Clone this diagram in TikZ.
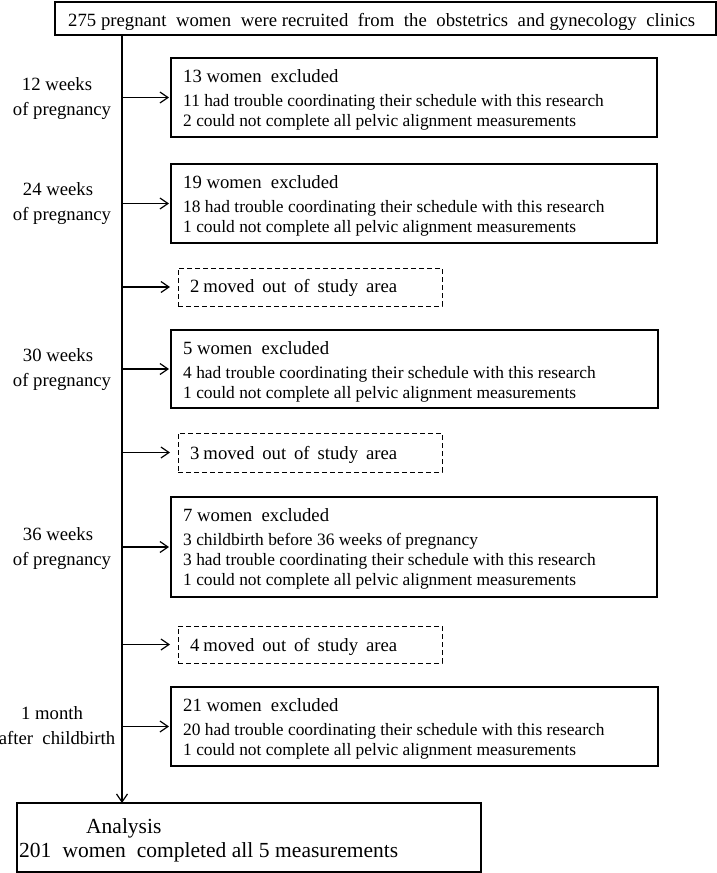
\documentclass[tikz,border=0pt]{standalone}
\usepackage{fontspec}
\setmainfont{Liberation Serif}
\usetikzlibrary{arrows.meta}
\tikzset{
  solidbox/.style={draw, line width=1.2pt, anchor=north west, inner sep=0pt, outer sep=0pt},
  dashbox/.style={draw, line width=1pt, dash pattern=on 5pt off 3pt, anchor=north west, inner sep=0pt, outer sep=0pt},
  hdr/.style={anchor=base west, inner sep=0pt, font=\fontsize{18.7pt}{22pt}\selectfont},
  body/.style={anchor=base west, inner sep=0pt, font=\fontsize{17.4pt}{20pt}\selectfont},
  lbl/.style={anchor=base, inner sep=0pt, font=\fontsize{18.7pt}{22pt}\selectfont},
  big/.style={anchor=base west, inner sep=0pt, font=\fontsize{21.5pt}{25pt}\selectfont},
  arr/.style={line width=1.2pt, -{Straight Barb[length=8pt,width=11pt,line width=1.2pt]}},
}
\begin{document}
\begin{tikzpicture}[x=1pt,y=-1pt]
\useasboundingbox (0,0) rectangle (717,873);
% top box
\node[solidbox, minimum width=661pt, minimum height=33pt] (top) at (55,2) {};
\node[hdr] (t0) at (68,26) {\makebox[627pt][s]{275 pregnant\ \ women\ \ were recruited\ \ from\ \ the\ \ obstetrics\ \ and gynecology\ \ clinics}};
% exclusion boxes
\node[solidbox, minimum width=486pt, minimum height=79pt] (b1) at (171,58) {};
\node[hdr]  (b1a) at (183,82.5) {13 women\ \ excluded};
\node[body] (b1b) at (183,106.5) {11 had trouble coordinating their schedule with this research};
\node[body] (b1c) at (183,126.5) {2 could not complete all pelvic alignment measurements};

\node[solidbox, minimum width=486pt, minimum height=79pt] (b2) at (171,164) {};
\node[hdr]  (b2a) at (183,188.5) {19 women\ \ excluded};
\node[body] (b2b) at (183,212.5) {18 had trouble coordinating their schedule with this research};
\node[body] (b2c) at (183,232.5) {1 could not complete all pelvic alignment measurements};

\node[dashbox, minimum width=264pt, minimum height=38pt] (d1) at (178,268) {};
\node[hdr] (d1a) at (190,292.5) {\makebox[207pt][s]{2 moved\ \ out\ \ of\ \ study\ \ area}};

\node[solidbox, minimum width=487pt, minimum height=78pt] (b3) at (171,330) {};
\node[hdr]  (b3a) at (183,354.5) {5 women\ \ excluded};
\node[body] (b3b) at (183,378.5) {4 had trouble coordinating their schedule with this research};
\node[body] (b3c) at (183,398.5) {1 could not complete all pelvic alignment measurements};

\node[dashbox, minimum width=264pt, minimum height=39pt] (d2) at (178,433) {};
\node[hdr] (d2a) at (190,459.5) {\makebox[207pt][s]{3 moved\ \ out\ \ of\ \ study\ \ area}};

\node[solidbox, minimum width=486pt, minimum height=100pt] (b4) at (171,497) {};
\node[hdr]  (b4a) at (183,521.5) {7 women\ \ excluded};
\node[body] (b4b) at (183,545.5) {3 childbirth before 36 weeks of pregnancy};
\node[body] (b4c) at (183,565.5) {3 had trouble coordinating their schedule with this research};
\node[body] (b4d) at (183,585.5) {1 could not complete all pelvic alignment measurements};

\node[dashbox, minimum width=264pt, minimum height=37pt] (d3) at (178,626) {};
\node[hdr] (d3a) at (190,651.5) {\makebox[207pt][s]{4 moved\ \ out\ \ of\ \ study\ \ area}};

\node[solidbox, minimum width=487pt, minimum height=79pt] (b5) at (171,687) {};
\node[hdr]  (b5a) at (183,711.5) {21 women\ \ excluded};
\node[body] (b5b) at (183,735.5) {20 had trouble coordinating their schedule with this research};
\node[body] (b5c) at (183,755.5) {1 could not complete all pelvic alignment measurements};

% analysis box
\node[solidbox, minimum width=464pt, minimum height=69pt] (ana) at (17,803) {};
\node[big] (ana1) at (86,833) {Analysis};
\node[big] (ana2) at (19,857) {\makebox[379pt][s]{201\ \ women\ \ completed all 5 measurements}};

% time labels
\node[lbl] (l1a) at (57,90) {12 weeks};
\node[lbl] (l1b) at (62,115) {of pregnancy};
\node[lbl] (l2a) at (58,195) {24 weeks};
\node[lbl] (l2b) at (62,220) {of pregnancy};
\node[lbl] (l3a) at (58,361) {30 weeks};
\node[lbl] (l3b) at (62,386) {of pregnancy};
\node[lbl] (l4a) at (58,540) {36 weeks};
\node[lbl] (l4b) at (62,565) {of pregnancy};
\node[lbl] (l5a) at (52,719) {1 month};
\node[lbl] (l5b) at (57,744) {after\ \ childbirth};

% trunk
\coordinate (T) at (122,35);
\draw[arr] (T) -- (T |- ana.north);
\foreach \b in {b1,b2,b3,b4,b5}
  \draw[arr, shorten >=2pt] (\b.west -| T) -- (\b.west);
\foreach \d in {d1,d2,d3}
  \draw[arr, shorten >=8pt] (\d.west -| T) -- (\d.west);
\end{tikzpicture}
\end{document}
